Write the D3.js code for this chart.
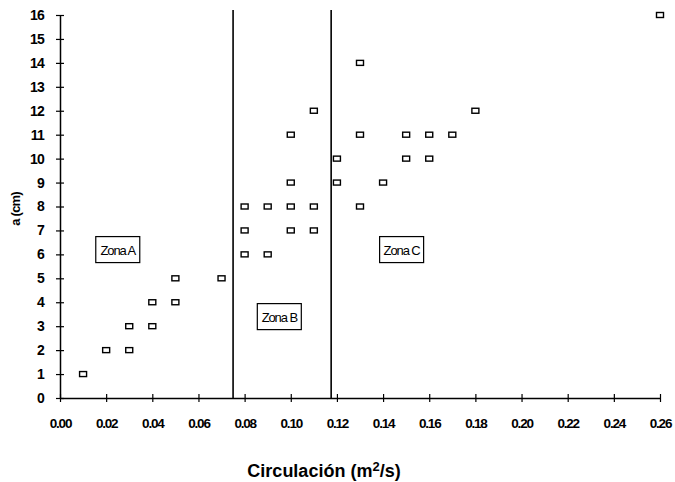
<!DOCTYPE html>
<html>
<head>
<meta charset="utf-8">
<script src="https://cdn.jsdelivr.net/npm/d3@7"></script>
<style>
  body { margin: 0; background: #fff; }
  svg { font-family: "Liberation Sans", Arial, sans-serif; }
</style>
</head>
<body>
<div id="chart"></div>
<script>
// data
var circulacion = [0.01, 0.02, 0.03, 0.03, 0.04, 0.04, 0.05, 0.05, 0.07,
    0.08, 0.08, 0.08, 0.09, 0.09, 0.10, 0.10, 0.10, 0.10, 0.11, 0.11, 0.11,
    0.12, 0.12, 0.13, 0.13, 0.13, 0.14, 0.15, 0.15, 0.16, 0.16, 0.17, 0.18, 0.26];
var aCm = [1, 2, 2, 3, 3, 4, 4, 5, 5,
    6, 7, 8, 6, 8, 7, 8, 9, 11, 7, 8, 12,
    9, 10, 8, 11, 14, 9, 10, 11, 10, 11, 11, 12, 16];
var zoneBounds = [0.075, 0.1175];
var zoneNames = ["Zona A", "Zona B", "Zona C"];
var zoneLabelX = [0.0155, 0.0855, 0.1385];
var zoneLabelY = [6.2, 3.4, 6.2];
var xTicks = d3.range(0, 0.2601, 0.02);
var yTicks = d3.range(0, 17, 1);

var margin = {top: 15, right: 15, bottom: 84, left: 60},
    width = 675 - margin.left - margin.right,
    height = 482 - margin.top - margin.bottom;

var svg = d3.select("#chart")
    .append("svg")
    .attr("width", 675)
    .attr("height", 482)
    .append("g")
    .attr("transform", "translate(" + margin.left + "," + margin.top + ")");

var x = d3.scaleLinear().domain([0, 0.26]).range([0, width]);
var y = d3.scaleLinear().domain([0, 16]).range([height, 0]);

// zone separators
svg.selectAll("line.zone")
    .data(zoneBounds)
    .enter()
    .append("line")
    .attr("class", "zone")
    .attr("x1", d => x(d))
    .attr("x2", d => x(d))
    .attr("y1", -5)
    .attr("y2", height)
    .attr("stroke", "#000")
    .attr("stroke-width", 1.6);

// axes
var xAxis = svg.append("g")
    .attr("transform", "translate(0," + height + ")")
    .call(d3.axisBottom(x).tickValues(xTicks).tickFormat(d3.format(".2f"))
        .tickSizeInner(4).tickSizeOuter(0).tickPadding(16));
var yAxis = svg.append("g")
    .call(d3.axisLeft(y).tickValues(yTicks).tickFormat(d3.format("d"))
        .tickSizeInner(4).tickSizeOuter(0).tickPadding(12));

[xAxis, yAxis].forEach(function (ax) {
    ax.select(".domain").attr("stroke", "#000").attr("stroke-width", 1.5);
    ax.selectAll(".tick line").attr("stroke", "#000").attr("stroke-width", 1.2);
    ax.selectAll(".tick text")
        .attr("fill", "#000")
        .style("font-weight", "bold");
});
xAxis.selectAll(".tick text").style("font-size", "13.5px").style("letter-spacing", "-1.2px");
yAxis.selectAll(".tick text").style("font-size", "14px").style("letter-spacing", "-0.8px");
// ticks cross the axis
xAxis.selectAll(".tick line").attr("y1", -4).attr("y2", 4);
yAxis.selectAll(".tick line").attr("x1", -4).attr("x2", 4);

// points
var pts = circulacion.map((c, i) => ({c: c, a: aCm[i]}));
svg.selectAll("rect.pt")
    .data(pts)
    .enter()
    .append("rect")
    .attr("class", "pt")
    .attr("x", d => x(d.c) - 3.5)
    .attr("y", d => y(d.a) - 2.5)
    .attr("width", 7)
    .attr("height", 5)
    .attr("fill", "#fff")
    .attr("stroke", "#000")
    .attr("stroke-width", 1.4);

// zone labels
var zl = svg.selectAll("g.zl")
    .data(zoneNames)
    .enter()
    .append("g")
    .attr("class", "zl")
    .attr("transform", (d, i) => "translate(" + x(zoneLabelX[i]) + "," + y(zoneLabelY[i]) + ")");
zl.append("rect")
    .attr("x", 0).attr("y", -13)
    .attr("width", 44).attr("height", 26)
    .attr("fill", "#fff")
    .attr("stroke", "#000")
    .attr("stroke-width", 1.2);
zl.append("text")
    .attr("x", 22).attr("y", 5)
    .attr("text-anchor", "middle")
    .style("font-size", "13px")
    .style("letter-spacing", "-1.1px")
    .text(d => d);

// axis titles
svg.append("text")
    .attr("transform", "translate(-40," + (y(7.9)) + ") rotate(-90)")
    .attr("text-anchor", "middle")
    .style("font-size", "13px")
    .style("font-weight", "bold")
    .style("letter-spacing", "-0.8px")
    .text("a (cm)");

var xt = svg.append("text")
    .attr("x", 324 - margin.left)
    .attr("y", 477 - margin.top)
    .attr("text-anchor", "middle")
    .style("font-size", "18px")
    .style("font-weight", "bold")
    .text("Circulación (m");
xt.append("tspan").attr("dy", -6).style("font-size", "13px").text("2");
xt.append("tspan").attr("dy", 6).text("/s)");
</script>
</body>
</html>
